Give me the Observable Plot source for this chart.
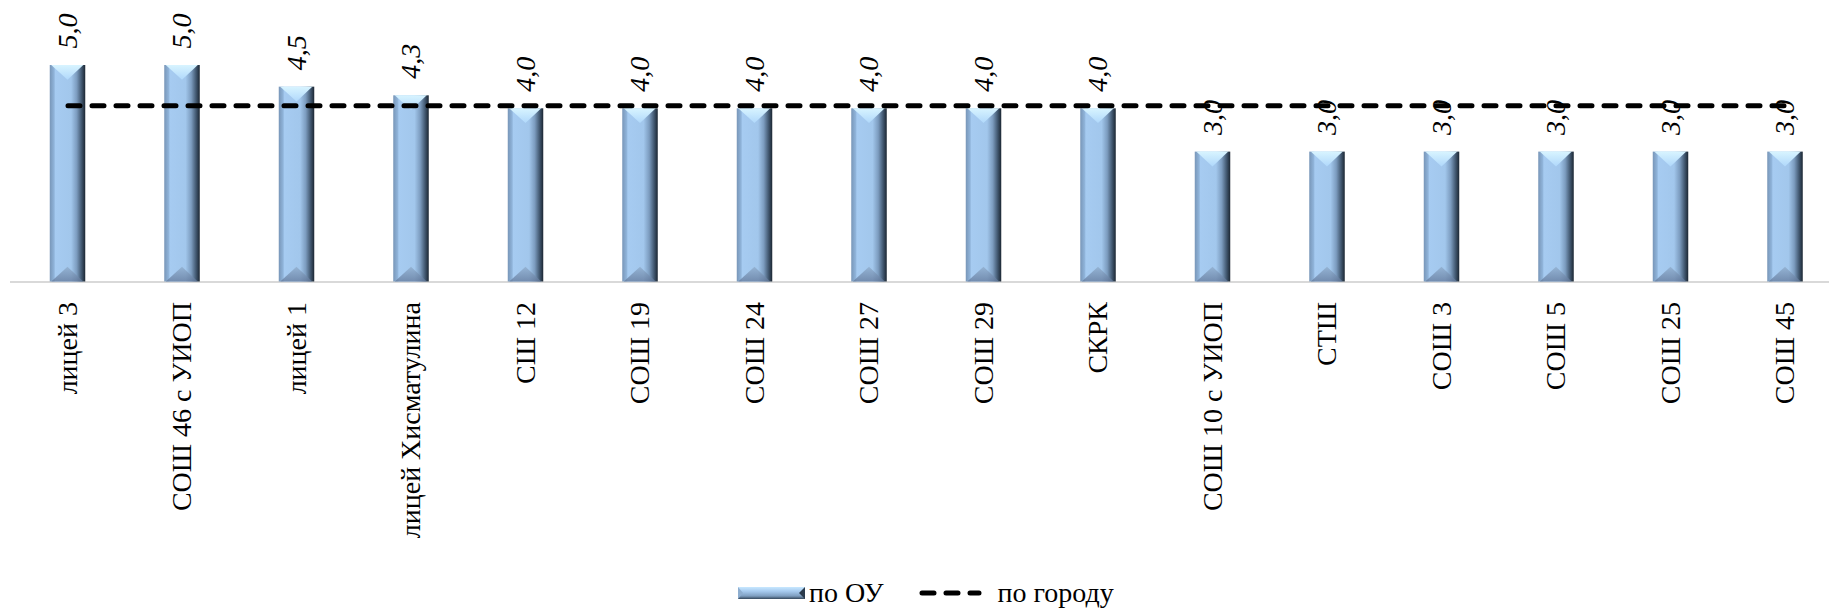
<!DOCTYPE html>
<html>
<head>
<meta charset="utf-8">
<script src="https://cdn.jsdelivr.net/npm/d3@7"></script>
<script src="https://cdn.jsdelivr.net/npm/@observablehq/plot@0.6"></script>
<style>
  body { margin: 0; background: #fff; }
  #chart svg { display: block; overflow: visible; }
  .legend { display: flex; align-items: center; height: 46px; padding-left: 738px;
            font-family: "Liberation Serif", "Times New Roman", serif; font-size: 28px; color: #000; }
  .sw { width: 67px; height: 12px; margin-right: 4px; }
</style>
</head>
<body>
<div id="chart"></div>
<div class="legend">
  <svg class="sw" width="67" height="12">
    <defs>
      <linearGradient id="lgV" x1="0" x2="0" y1="0" y2="1">
        <stop offset="0" stop-color="#c8e8ff"/>
        <stop offset="0.35" stop-color="#a6caef"/>
        <stop offset="0.75" stop-color="#7e9ec0"/>
        <stop offset="1" stop-color="#34475c"/>
      </linearGradient>
    </defs>
    <rect x="0" y="0" width="67" height="12" fill="url(#lgV)"/>
    <polygon points="67,0 67,12 61,6" fill="#2a3a4c"/>
    <polygon points="0,0 0,12 5,6" fill="#8eaed0"/>
  </svg>
  <span>по ОУ</span>
  <svg width="63" height="12" style="margin-left:36px;margin-right:15px"><line x1="3" x2="60" y1="6" y2="6" stroke="#000" stroke-width="5" stroke-linecap="round" stroke-dasharray="12,12"/></svg>
  <span>по городу</span>
</div>
<script>
const schools = ["лицей 3", "СОШ 46 с УИОП", "лицей 1", "лицей Хисматулина", "СШ 12", "СОШ 19", "СОШ 24", "СОШ 27", "СОШ 29", "СКРК", "СОШ 10 с УИОП", "СТШ", "СОШ 3", "СОШ 5", "СОШ 25", "СОШ 45"];
const scores = [5.0, 5.0, 4.5, 4.3, 4.0, 4.0, 4.0, 4.0, 4.0, 4.0, 3.0, 3.0, 3.0, 3.0, 3.0, 3.0];
const cityAvg = 4.07;

const data = schools.map((s, i) => ({school: s, value: scores[i], city: cityAvg}));
const fmt = v => v.toFixed(1).replace(".", ",");
const serif = "'Liberation Serif', 'Times New Roman', serif";

const chart = Plot.plot({
  width: 1829,
  height: 570,
  marginLeft: 10,
  marginRight: 0,
  marginTop: 0,
  marginBottom: 288.5,
  style: {fontFamily: serif, fontSize: "28px", color: "#000", background: "#fff"},
  x: {domain: schools, range: [10.25, 1842.25], paddingInner: 0.69, paddingOuter: 0.345, round: false, label: null},
  y: {domain: [0, 5], range: [281.5, 65], axis: null},
  marks: [
    Plot.ruleY([0], {stroke: "#d9d9d9", strokeWidth: 2}),
    Plot.barY(data, {x: "school", y: "value", fill: "url(#barGrad)", ariaLabel: "bars"}),
    Plot.axisX({anchor: "bottom", tickSize: 0, tickPadding: 20, tickRotate: -90, fontSize: 28, fontFamily: serif, label: null}),
    Plot.text(data, {x: "school", y: "value", text: d => fmt(d.value), rotate: -90, textAnchor: "start", dy: -17, fontSize: 28, fontStyle: "italic", fontFamily: serif, fill: "#000"}),
    Plot.lineY(data, {x: "school", y: "city", stroke: "#000", strokeWidth: 5, strokeDasharray: "12,12", strokeLinecap: "round"})
  ]
});

const defs = `
<defs>
  <linearGradient id="barGrad" x1="0" x2="1" y1="0" y2="0">
    <stop offset="0" stop-color="#7896b8"/>
    <stop offset="0.12" stop-color="#8fb3d9"/>
    <stop offset="0.16" stop-color="#a6cbf1"/>
    <stop offset="0.6" stop-color="#a2c7ec"/>
    <stop offset="0.76" stop-color="#7c9cbf"/>
    <stop offset="0.9" stop-color="#40566e"/>
    <stop offset="1" stop-color="#1b2632"/>
  </linearGradient>
  <linearGradient id="topGrad" x1="0" x2="0" y1="0" y2="1">
    <stop offset="0" stop-color="#d8f4ff"/>
    <stop offset="1" stop-color="#b0d8fb"/>
  </linearGradient>
  <linearGradient id="botGrad" x1="0" x2="0" y1="0" y2="1">
    <stop offset="0" stop-color="#8faccb"/>
    <stop offset="1" stop-color="#62789a"/>
  </linearGradient>
</defs>`;
chart.insertAdjacentHTML("afterbegin", defs);

// bevel overlays derived from the rendered bar rects
const barGroup = chart.querySelector('g[aria-label="bars"]') || chart.querySelector('g[aria-label="bar"]');
if (barGroup) {
  const ns = "http://www.w3.org/2000/svg";
  barGroup.querySelectorAll("rect").forEach(r => {
    const x = +r.getAttribute("x"), y = +r.getAttribute("y");
    const w = +r.getAttribute("width"), h = +r.getAttribute("height");
    const d = Math.min(w / 2.4, 15);
    const top = document.createElementNS(ns, "polygon");
    top.setAttribute("points", `${x + 1.5},${y} ${x + w - 2},${y} ${x + w / 2},${y + d}`);
    top.setAttribute("fill", "url(#topGrad)");
    const bot = document.createElementNS(ns, "polygon");
    bot.setAttribute("points", `${x + 1.5},${y + h} ${x + w - 2},${y + h} ${x + w / 2},${y + h - d}`);
    bot.setAttribute("fill", "url(#botGrad)");
    bot.setAttribute("fill-opacity", "0.75");
    barGroup.appendChild(top);
    barGroup.appendChild(bot);
  });
}
document.getElementById("chart").appendChild(chart);
</script>
</body>
</html>
